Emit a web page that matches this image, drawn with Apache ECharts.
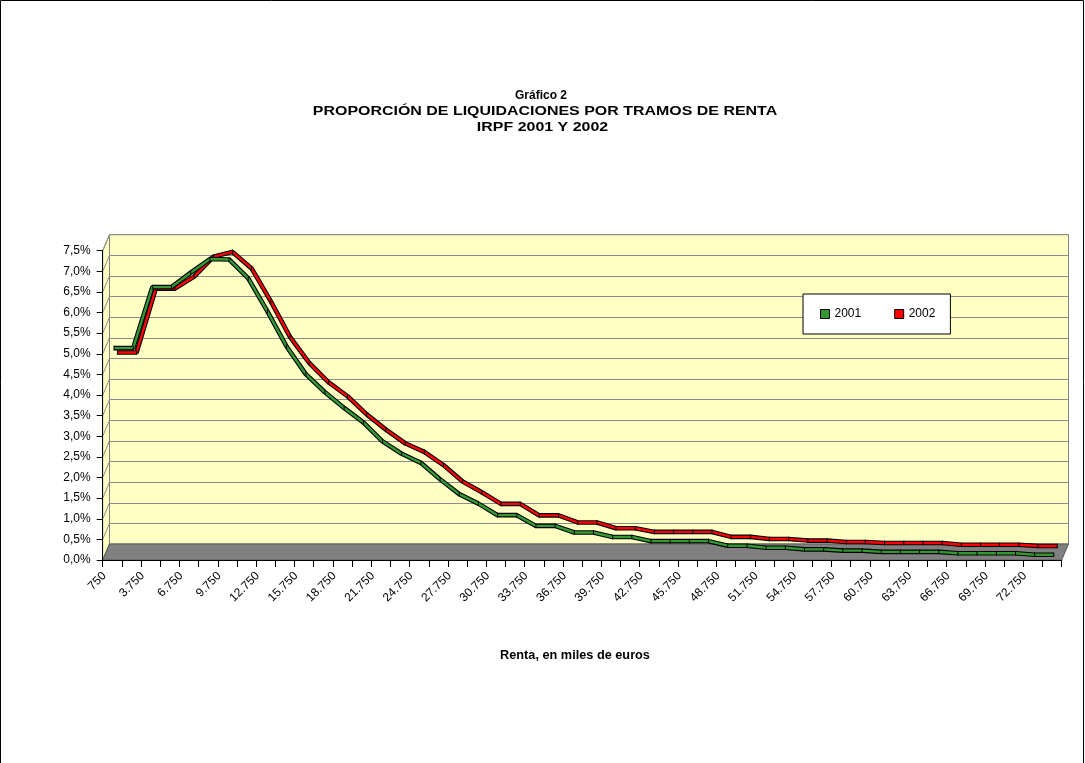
<!DOCTYPE html>
<html><head><meta charset="utf-8">
<script src="https://cdn.jsdelivr.net/npm/echarts@6/dist/echarts.min.js"></script>
<style>html,body{margin:0;padding:0;background:#fff}#c{width:1085px;height:763px}</style>
</head><body><div id="c"></div>
<script>
// ---------------- data ----------------
const categories = ['750','2.250','3.750','5.250','6.750','8.250','9.750','11.250','12.750','14.250',
  '15.750','17.250','18.750','20.250','21.750','23.250','24.750','26.250','27.750','29.250',
  '30.750','32.250','33.750','35.250','36.750','38.250','39.750','41.250','42.750','44.250',
  '45.750','47.250','48.750','50.250','51.750','53.250','54.750','56.250','57.750','59.250',
  '60.750','62.250','63.750','65.250','66.750','68.250','69.750','71.250','72.750','74.250'];
const yTickValues = [0,0.5,1,1.5,2,2.5,3,3.5,4,4.5,5,5.5,6,6.5,7,7.5];
const yTickLabels = ['0,0%','0,5%','1,0%','1,5%','2,0%','2,5%','3,0%','3,5%','4,0%','4,5%','5,0%','5,5%','6,0%','6,5%','7,0%','7,5%'];
const share2001 = [5.04,5.04,6.52,6.52,6.87,7.20,7.19,6.73,5.93,5.08,
  4.41,3.97,3.59,3.24,2.78,2.48,2.26,1.86,1.50,1.27,
  0.99,0.99,0.73,0.73,0.57,0.57,0.46,0.46,0.36,0.36,
  0.36,0.36,0.25,0.25,0.20,0.20,0.16,0.16,0.13,0.13,
  0.10,0.10,0.10,0.10,0.065,0.065,0.065,0.065,0.03,0.03];
const share2002 = [4.74,4.74,6.29,6.29,6.58,7.06,7.18,6.78,5.98,5.12,
  4.49,4.02,3.68,3.24,2.87,2.54,2.33,2.01,1.61,1.35,
  1.07,1.07,0.79,0.79,0.62,0.62,0.48,0.48,0.39,0.39,
  0.39,0.39,0.27,0.27,0.22,0.22,0.18,0.18,0.145,0.145,
  0.12,0.12,0.12,0.12,0.08,0.08,0.08,0.08,0.05,0.05];
const seriesNames = ['2001','2002'];
const titleLines = ['Gráfico 2','PROPORCIÓN DE LIQUIDACIONES POR TRAMOS DE RENTA','IRPF 2001 Y 2002'];
const xAxisTitle = 'Renta, en miles de euros';

// ---------------- layout / style ----------------
const FONT = '"Liberation Sans", Arial, sans-serif';
const L0 = 102.7, T0 = 250.7, W = 959, H = 309.3;   // front plane
const DX = 6.8, DY = -16;                            // 3D depth vector
const depthPos = [0.25, 0.75];                       // series slots
const WALL = '#FFFFC4', FLOOR = '#808080', GRIDC = '#8c8c8c';
const COLORS = ['#339933', '#FF0000'];
const YMAX = 7.5;

function gridAt(f, extra) {
  return Object.assign({left: L0 + DX * f, top: T0 + DY * f, width: W, height: H, outerBoundsMode: 'none'}, extra || {});
}
function hiddenX(gi) { return {type:'category', gridIndex: gi, data: categories, boundaryGap: true, show: false}; }
function hiddenY(gi) { return {type:'value', gridIndex: gi, min: 0, max: YMAX, interval: 0.5, show: false}; }

const chart = echarts.init(document.getElementById('c'), null, {renderer: 'canvas'});

const option = {
  animation: false,
  backgroundColor: '#ffffff',
  grid: [
    gridAt(0),                                                   // 0 front axes
    gridAt(1, {show: true, backgroundColor: WALL, borderColor: '#808080', borderWidth: 1}), // 1 back wall
    gridAt(depthPos[0]),                                         // 2 series 2001
    gridAt(depthPos[1]),                                         // 3 series 2002
    {left: L0 - 8, top: T0, width: W, height: H, outerBoundsMode: 'none'} // 4 category labels
  ],
  xAxis: [
    {type:'category', gridIndex:0, data: categories, boundaryGap: true, z: 10,
     axisLine:{show:true, lineStyle:{color:'#000', width:1}},
     axisTick:{show:true, interval:0, length:7, inside:false, lineStyle:{color:'#000'}},
     axisLabel:{show:false}, splitLine:{show:false}},
    hiddenX(1), hiddenX(2), hiddenX(3),
    {type:'category', gridIndex:4, data: categories, boundaryGap: true,
     axisLine:{show:false}, axisTick:{show:false}, splitLine:{show:false},
     axisLabel:{show:true, interval:1, rotate:45, margin:14, fontSize:12, color:'#000', fontFamily: FONT}}
  ],
  yAxis: [
    {type:'value', gridIndex:0, min:0, max:YMAX, interval:0.5, z: 10,
     axisLine:{show:true, lineStyle:{color:'#000'}},
     axisTick:{show:true, length:6, lineStyle:{color:'#000'}},
     axisLabel:{show:true, margin:12, fontSize:12, color:'#000', fontFamily: FONT,
       formatter: function(v){ const i = yTickValues.indexOf(Math.round(v*10)/10); return i >= 0 ? yTickLabels[i] : ''; }},
     splitLine:{show:false}},
    {type:'value', gridIndex:1, min:0, max:YMAX, interval:0.5,
     axisLine:{show:false}, axisTick:{show:false}, axisLabel:{show:false},
     splitLine:{show:true, lineStyle:{color:GRIDC, width:1}}},
    hiddenY(2), hiddenY(3), hiddenY(4)
  ],
  legend: {
    data: seriesNames.map((n, i) => ({name: n, itemStyle: {color: COLORS[i], borderColor: '#000', borderWidth: 1}})),
    left: 803, top: 294, orient: 'horizontal', icon: 'rect',
    itemWidth: 9, itemHeight: 9, itemGap: 33, padding: [14, 15, 14, 17],
    backgroundColor: '#fff', borderColor: '#000', borderWidth: 1,
    textStyle: {fontSize: 12, color: '#000', fontFamily: FONT}, z: 20, selectedMode: false
  },
  series: []
};

// back series first (2002), then front (2001)
const seriesData = [share2001, share2002];
[1, 0].forEach(function(k, order) {
  const gi = 2 + k;
  option.series.push({
    name: seriesNames[k] + ' contorno', type: 'line', xAxisIndex: gi, yAxisIndex: gi,
    data: seriesData[k], symbol: 'none', silent: true, z: 3 + order * 2,
    lineStyle: {color: '#000', width: 4.6}
  });
  option.series.push({
    name: seriesNames[k], type: 'line', xAxisIndex: gi, yAxisIndex: gi,
    data: seriesData[k], symbol: 'rect', symbolSize: [1, 4.6], showAllSymbol: true, silent: true,
    z: 4 + order * 2, itemStyle: {color: '#000'},
    lineStyle: {color: COLORS[k], width: 2.4}
  });
});

chart.setOption(option);

// ---------------- 3D box decoration ----------------
const graphics = [];
const yFront = yTickValues.map(v => chart.convertToPixel({yAxisIndex: 0}, v));
const yBottom = chart.convertToPixel({yAxisIndex: 0}, 0);
const yTop = chart.convertToPixel({yAxisIndex: 0}, YMAX);
// side wall
graphics.push({type:'polygon', z: 1, shape:{points:[[L0, yBottom],[L0+DX, yBottom+DY],[L0+DX, yTop+DY],[L0, yTop]]},
  style:{fill: WALL, stroke: '#808080', lineWidth: 1}});
yFront.forEach(function(y){
  graphics.push({type:'line', z: 1, shape:{x1: L0, y1: y, x2: L0+DX, y2: y+DY}, style:{stroke: GRIDC, lineWidth: 1}});
});
// floor
graphics.push({type:'polygon', z: 2, shape:{points:[[L0, yBottom],[L0+W, yBottom],[L0+W+DX, yBottom+DY],[L0+DX, yBottom+DY]]},
  style:{fill: FLOOR, stroke: '#5a5a5a', lineWidth: 1}});
// outer frame
graphics.push({type:'rect', z: 0, shape:{x:0.5, y:0.5, width:1083, height:800}, style:{fill:'none', stroke:'#000', lineWidth:1}});
// titles
const titlePos = [[541, 96, 1.0], [545, 112, 1.33], [542.5, 128, 1.33]];
titleLines.forEach(function(t, i){
  graphics.push({type:'text', z: 20, x: titlePos[i][0], y: titlePos[i][1], scaleX: titlePos[i][2],
    style:{text: t, font: 'bold 12px ' + FONT, fill:'#000', align:'center', verticalAlign:'middle', textAlign:'center', textVerticalAlign:'middle'}});
});
graphics.push({type:'text', z: 20, x: 575, y: 656, scaleX: 1.06,
  style:{text: xAxisTitle, font: 'bold 12px ' + FONT, fill:'#000', align:'center', verticalAlign:'middle', textAlign:'center', textVerticalAlign:'middle'}});

chart.setOption({graphic: {elements: graphics}});
</script>
</body></html>
